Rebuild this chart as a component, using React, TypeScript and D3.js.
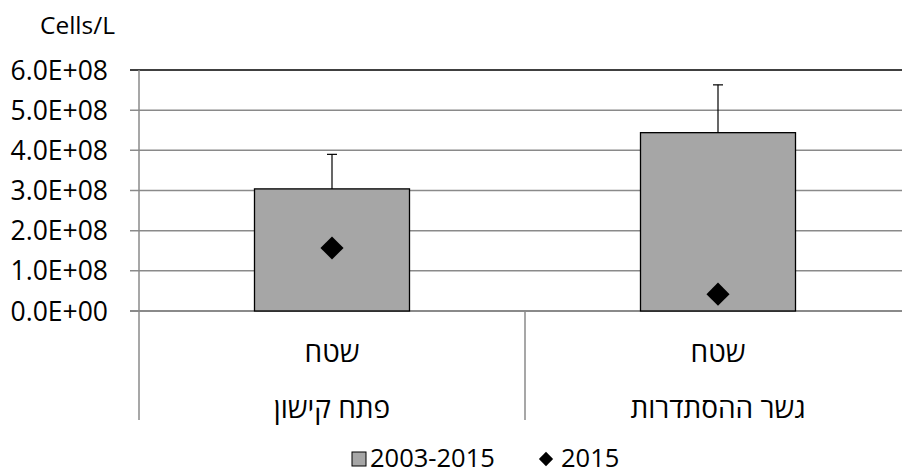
import React from "react";
import * as d3 from "d3";

const categoriesLine1 = ["שטח", "שטח"];
const categoriesLine2 = ["פתח קישון", "גשר ההסתדרות"];
const meanValues = [3.04e8, 4.44e8];
const errorValues = [0.86e8, 1.19e8];
const values2015 = [1.57e8, 0.42e8];
const yTicks = [0, 1e8, 2e8, 3e8, 4e8, 5e8, 6e8];
const tickLabels = ["0.0E+00", "1.0E+08", "2.0E+08", "3.0E+08", "4.0E+08", "5.0E+08", "6.0E+08"];
const legendLabels = ["2003-2015", "2015"];

const W = 902;
const H = 473;
const FONT = "'Open Sans', 'DejaVu Sans', sans-serif";

export default function App() {
  const left = 139;
  const right = 911;
  const y = d3.scaleLinear().domain([0, 6e8]).range([311, 70]);
  const x = d3.scaleBand<number>().domain([0, 1]).range([left, right]).paddingInner(0).paddingOuter(0);
  const barW = 155;
  const diamond = d3.symbol().type(d3.symbolDiamond2).size(340)();
  const legDiamond = d3.symbol().type(d3.symbolDiamond2).size(130)();
  return (
    <svg width={W} height={H} style={{ position: "absolute", left: 0, top: 0, background: "#fff" }}>
      <text x={40} y={25} dy="0.36em" fontFamily={FONT} fontSize={24.5} fill="#000">Cells/L</text>
      {yTicks.map((t, i) => (
        <g key={i}>
          <line x1={130} x2={right} y1={y(t)} y2={y(t)} stroke={i === yTicks.length - 1 ? "#000" : "#8a8a8a"} strokeWidth={i === 0 ? 2 : 1.5} />
          <text x={108} y={y(t)} dy="0.36em" textAnchor="end" fontFamily={FONT} fontSize={26.5} fill="#000">{tickLabels[i]}</text>
        </g>
      ))}
      <line x1={left} x2={left} y1={70} y2={420} stroke="#8a8a8a" strokeWidth={1.5} />
      {[1, 2].map((k) => (
        <line key={k} x1={left + k * x.bandwidth()} x2={left + k * x.bandwidth()} y1={311} y2={420} stroke="#8a8a8a" strokeWidth={1.5} />
      ))}
      {meanValues.map((v, i) => {
        const cx = (x(i) as number) + x.bandwidth() / 2;
        return (
          <g key={i}>
            <rect x={cx - barW / 2} y={y(v)} width={barW} height={y(0) - y(v)} fill="#a6a6a6" stroke="#000" strokeWidth={1.3} />
            <line x1={cx} x2={cx} y1={y(v)} y2={y(v + errorValues[i])} stroke="#000" strokeWidth={1.2} />
            <line x1={cx - 5} x2={cx + 5} y1={y(v + errorValues[i])} y2={y(v + errorValues[i])} stroke="#000" strokeWidth={1.2} />
            <path d={diamond as string} transform={`translate(${cx},${y(values2015[i])})`} fill="#000" />
            <text x={cx} y={352} dy="0.36em" textAnchor="middle" fontFamily={FONT} fontSize={28} fill="#000">{categoriesLine1[i]}</text>
            <text x={cx} y={408} dy="0.36em" textAnchor="middle" fontFamily={FONT} fontSize={28} fill="#000">{categoriesLine2[i]}</text>
          </g>
        );
      })}
      <rect x={352} y={452} width={14} height={14} fill="#a6a6a6" stroke="#000" strokeWidth={1} />
      <text x={370} y={458} dy="0.36em" fontFamily={FONT} fontSize={25.5} fill="#000">{legendLabels[0]}</text>
      <path d={legDiamond as string} transform={`translate(546,459)`} fill="#000" />
      <text x={561} y={458} dy="0.36em" fontFamily={FONT} fontSize={25.5} fill="#000">{legendLabels[1]}</text>
    </svg>
  );
}
